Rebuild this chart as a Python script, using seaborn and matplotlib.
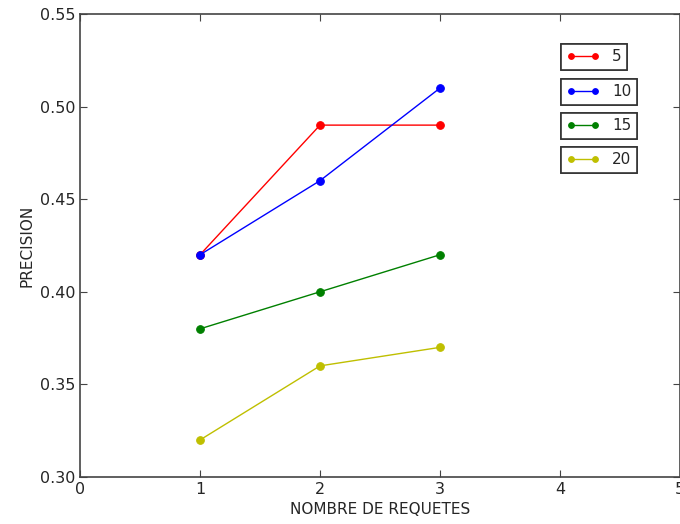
import matplotlib
matplotlib.use("Agg")
import matplotlib.pyplot as plt
import pandas as pd
import seaborn as sns

# values
requetes = [1, 2, 3]
prec_5 = [0.42, 0.49, 0.49]
prec_10 = [0.42, 0.46, 0.51]
prec_15 = [0.38, 0.40, 0.42]
prec_20 = [0.32, 0.36, 0.37]
series_names = ["5", "10", "15", "20"]
colors = ["#ff0000", "#0000ff", "#008000", "#bfbf00"]
x_ticks = [0, 1, 2, 3, 4, 5]
y_ticks = [0.30, 0.35, 0.40, 0.45, 0.50, 0.55]

sns.set_style("ticks", {"xtick.direction": "in", "ytick.direction": "in"})
plt.rcParams["font.family"] = ["DejaVu Sans"]

rows = []
for name, vals in zip(series_names, [prec_5, prec_10, prec_15, prec_20]):
    for x, v in zip(requetes, vals):
        rows.append({"requetes": x, "precision": v, "k": name})
df = pd.DataFrame(rows)

fig = plt.figure(figsize=(6.8, 5.24), dpi=100)
ax = fig.add_axes([80 / 680, 47 / 524, 600 / 680, 463 / 524])

for name, col in zip(series_names, colors):
    sub = df[df["k"] == name]
    sns.lineplot(data=sub, x="requetes", y="precision", color=col, marker="o",
                 markersize=5.5, markeredgecolor=col, linewidth=1.0, ax=ax,
                 label=name, legend=False)

ax.set_xlim(0, 5)
ax.set_ylim(0.30, 0.55)
ax.set_xticks(x_ticks)
ax.set_yticks(y_ticks)
ax.set_yticklabels([f"{t:.2f}" for t in y_ticks])
ax.tick_params(which="both", top=True, right=True, length=5, labelsize=11.5,
               color="#444444")
for sp in ax.spines.values():
    sp.set_visible(True)
    sp.set_color("#444444")
    sp.set_linewidth(1.2)
ax.set_xlabel("NOMBRE DE REQUETES", fontsize=11)
ax.set_ylabel("PRECISION", fontsize=11)

# one boxed legend per series, stacked like the original
handles = ax.get_lines()
tops = [44, 79, 113, 147]
for h, name, top in zip(handles, series_names, tops):
    leg = fig.legend([h], [name], loc="upper left",
                     bbox_to_anchor=(561 / 680, 1 - top / 524),
                     bbox_transform=fig.transFigure, borderaxespad=0,
                     numpoints=2, markerscale=0.75, handlelength=2.2,
                     fancybox=False, framealpha=1, edgecolor="#333333",
                     fontsize=11, borderpad=0.35)
    leg.get_frame().set_linewidth(1.2)
    fig.add_artist(leg)

fig.savefig("out.png", dpi=100)
